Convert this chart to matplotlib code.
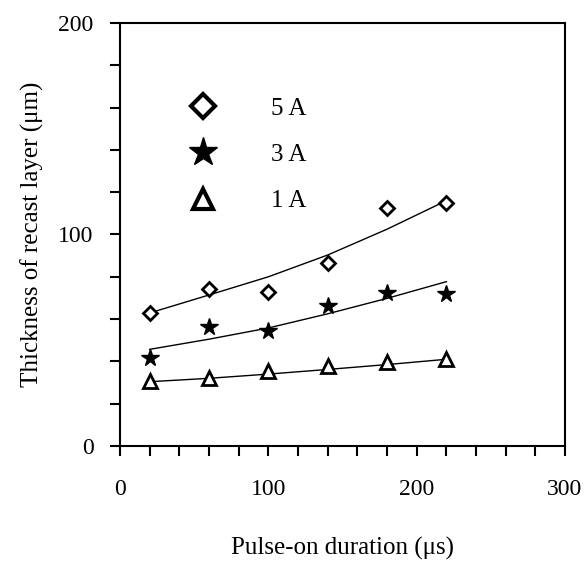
import matplotlib
matplotlib.use("Agg")
from matplotlib import pyplot as plt
from matplotlib.lines import Line2D
from matplotlib.ticker import MultipleLocator

plt.rcParams["font.family"] = ["Liberation Serif", "DejaVu Serif"]

# pulse-on duration (us)
pulse_on = [20, 60, 100, 140, 180, 220]

# measured recast layer thickness (um)
thick_5A = [62.9, 74.1, 73.0, 86.4, 112.4, 115.0]
thick_3A = [41.6, 56.3, 54.4, 66.2, 72.2, 71.7]
thick_1A = [30.7, 32.0, 35.5, 38.0, 39.6, 41.0]

# fitted trend curves
fit_5A = [62.9, 71.4, 80.0, 90.3, 102.5, 116.0]
fit_3A = [45.7, 50.5, 55.8, 62.5, 69.8, 77.7]
fit_1A = [30.4, 32.0, 34.0, 36.2, 38.5, 41.0]

labels = ["5 A", "3 A", "1 A"]

fig = plt.figure(figsize=(5.85, 5.64), dpi=100)
ax = fig.add_axes([120 / 585, 1 - 446 / 564, 445 / 585, 423 / 564])

ax.plot(pulse_on, fit_5A, color="black", lw=1.0)
ax.plot(pulse_on, fit_3A, color="black", lw=1.0)
ax.plot(pulse_on, fit_1A, color="black", lw=1.0)

ax.plot(pulse_on, thick_5A, ls="none", marker="D", ms=7, mfc="white", mec="black", mew=2, zorder=5)
ax.plot(pulse_on, thick_3A, ls="none", marker="*", ms=13, mfc="black", mec="black", zorder=5)
ax.plot(pulse_on, thick_1A, ls="none", marker="^", ms=9.5, mfc="white", mec="black", mew=2, zorder=5)

handles = [
    Line2D([], [], ls="none", marker="D", ms=12, mfc="white", mec="black", mew=3),
    Line2D([], [], ls="none", marker="*", ms=21, mfc="black", mec="black"),
    Line2D([], [], ls="none", marker="^", ms=15, mfc="white", mec="black", mew=3),
]
ax.legend(handles, labels, loc="upper left", bbox_to_anchor=(0.121, 0.848), frameon=False,
          fontsize=18, handletextpad=2.0, labelspacing=0.95, handlelength=1.5, borderaxespad=0)

ax.set_xlim(0, 300)
ax.set_ylim(0, 200)
ax.xaxis.set_major_locator(MultipleLocator(100))
ax.xaxis.set_minor_locator(MultipleLocator(20))
ax.yaxis.set_major_locator(MultipleLocator(100))
ax.yaxis.set_minor_locator(MultipleLocator(20))
ax.tick_params(which="both", direction="out", length=7, width=1.5, labelsize=17)
ax.tick_params(axis="x", which="major", pad=17)
ax.tick_params(axis="y", which="major", pad=12)
for sp in ax.spines.values():
    sp.set_linewidth(1.5)

ax.set_xlabel("Pulse-on duration (μs)", fontsize=18, labelpad=26)
ax.set_ylabel("Thickness of recast layer (μm)", fontsize=18, labelpad=10)

fig.savefig("out.png", dpi=100)
